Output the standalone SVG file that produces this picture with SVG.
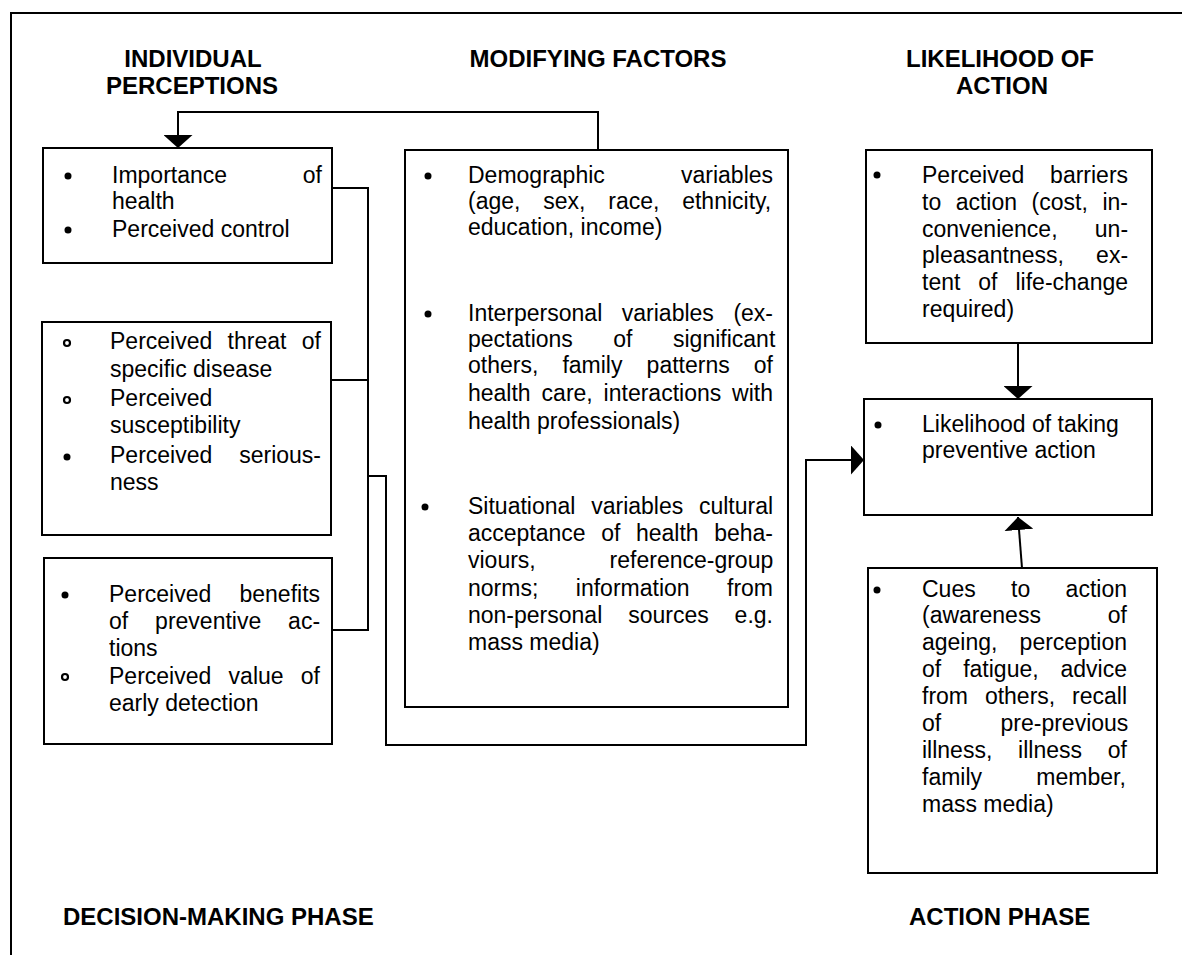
<svg xmlns="http://www.w3.org/2000/svg" width="1182" height="955" viewBox="0 0 1182 955">
<style>
  .frame{fill:none;stroke:#000;stroke-width:2}
  .box{fill:#fff;stroke:#000;stroke-width:2}
  .conn{fill:none;stroke:#000;stroke-width:2}
  .t{font-family:"Liberation Sans",Arial,Helvetica,sans-serif;font-size:23px;fill:#000}
  .h{font-family:"Liberation Sans",Arial,Helvetica,sans-serif;font-size:24px;font-weight:bold;fill:#000}
  .dot{fill:#000}
  .ring{fill:#fff;stroke:#000;stroke-width:2.2}
</style>
<defs>
  <marker id="arr" markerUnits="userSpaceOnUse" viewBox="0 0 13 29" refX="13" refY="14.5" markerWidth="13" markerHeight="29" orient="auto">
    <path d="M0,0 L13,14.5 L0,29 Z" fill="#000"/>
  </marker>
</defs>
<rect width="1182" height="955" fill="#fff"/>
<path class="frame" d="M11,955 V13 H1182"/>

<g id="headers">
  <text class="h" x="193" y="67" text-anchor="middle">INDIVIDUAL</text>
  <text class="h" x="192" y="94" text-anchor="middle">PERCEPTIONS</text>
  <text class="h" x="598" y="67" text-anchor="middle">MODIFYING FACTORS</text>
  <text class="h" x="1000" y="67" text-anchor="middle">LIKELIHOOD OF</text>
  <text class="h" x="1002" y="94" text-anchor="middle">ACTION</text>
  <text class="h" x="63" y="925">DECISION-MAKING PHASE</text>
  <text class="h" x="909" y="925">ACTION PHASE</text>
</g>

<g id="connectors">
  <path class="conn" d="M598,150 V112 H178 V148" marker-end="url(#arr)"/>
  <path class="conn" d="M332,188 H368 V630 H333"/>
  <path class="conn" d="M331,380 H368"/>
  <path class="conn" d="M368,476 H386 V745 H806 V460 H864" marker-end="url(#arr)"/>
  <path class="conn" d="M1018,343 V399" marker-end="url(#arr)"/>
  <path class="conn" d="M1022,568 L1018,517" marker-end="url(#arr)"/>
</g>

<g id="node-importance">
  <rect class="box" x="43" y="148" width="289" height="115"/>
  <circle class="dot" cx="68" cy="176" r="3.5"/>
  <circle class="dot" cx="68" cy="230" r="3.5"/>
  <text class="t" y="183"><tspan x="112">Importance</tspan> <tspan x="302.8">of</tspan></text>
  <text class="t" x="112" y="209">health</text>
  <text class="t" x="112" y="237">Perceived control</text>
</g>

<g id="node-threat">
  <rect class="box" x="42" y="322" width="289" height="213"/>
  <circle class="ring" cx="67" cy="343" r="3"/>
  <circle class="ring" cx="67" cy="400" r="3"/>
  <circle class="dot" cx="67" cy="457" r="3.5"/>
  <text class="t" y="349"><tspan x="110">Perceived</tspan> <tspan x="227.6">threat</tspan> <tspan x="301.8">of</tspan></text>
  <text class="t" x="110" y="377">specific disease</text>
  <text class="t" x="110" y="406">Perceived</text>
  <text class="t" x="110" y="433">susceptibility</text>
  <text class="t" y="463"><tspan x="110">Perceived</tspan> <tspan x="239.2">serious-</tspan></text>
  <text class="t" x="110" y="490">ness</text>
</g>

<g id="node-benefits">
  <rect class="box" x="44" y="558" width="288" height="186"/>
  <circle class="dot" cx="65" cy="595" r="3.5"/>
  <circle class="ring" cx="65" cy="677" r="3"/>
  <text class="t" y="602"><tspan x="109">Perceived</tspan> <tspan x="239.5">benefits</tspan></text>
  <text class="t" y="629"><tspan x="109">of</tspan> <tspan x="155.1">preventive</tspan> <tspan x="288.1">ac-</tspan></text>
  <text class="t" x="109" y="656">tions</text>
  <text class="t" y="684"><tspan x="109">Perceived</tspan> <tspan x="228.6">value</tspan> <tspan x="300.8">of</tspan></text>
  <text class="t" x="109" y="711">early detection</text>
</g>

<g id="node-modifying">
  <rect class="box" x="405" y="150" width="383" height="557"/>
  <circle class="dot" cx="428" cy="176" r="3.5"/>
  <circle class="dot" cx="428" cy="314" r="3.5"/>
  <circle class="dot" cx="425" cy="507" r="3.5"/>
  <text class="t" y="183"><tspan x="468">Demographic</tspan> <tspan x="681">variables</tspan></text>
  <text class="t" y="209"><tspan x="468">(age,</tspan> <tspan x="543.2">sex,</tspan> <tspan x="608.3">race,</tspan> <tspan x="682.2">ethnicity,</tspan></text>
  <text class="t" x="468" y="235">education, income)</text>
  <text class="t" y="321"><tspan x="468">Interpersonal</tspan> <tspan x="621.8">variables</tspan> <tspan x="733.4">(ex-</tspan></text>
  <text class="t" y="347"><tspan x="468">pectations</tspan> <tspan x="613.3">of</tspan> <tspan x="673">significant</tspan></text>
  <text class="t" y="373"><tspan x="468">others,</tspan> <tspan x="562.4">family</tspan> <tspan x="646.6">patterns</tspan> <tspan x="753.8">of</tspan></text>
  <text class="t" y="401"><tspan x="468">health</tspan> <tspan x="541.6">care,</tspan> <tspan x="603.6">interactions</tspan> <tspan x="732.1">with</tspan></text>
  <text class="t" x="468" y="429">health professionals)</text>
  <text class="t" y="514"><tspan x="468">Situational</tspan> <tspan x="591.2">variables</tspan> <tspan x="698.9">cultural</tspan></text>
  <text class="t" y="541"><tspan x="468">acceptance</tspan> <tspan x="601.2">of</tspan> <tspan x="636">health</tspan> <tspan x="714.2">beha-</tspan></text>
  <text class="t" y="568"><tspan x="468">viours,</tspan> <tspan x="609.6">reference-group</tspan></text>
  <text class="t" y="596"><tspan x="468">norms;</tspan> <tspan x="575.8">information</tspan> <tspan x="727">from</tspan></text>
  <text class="t" y="623"><tspan x="468">non-personal</tspan> <tspan x="628.2">sources</tspan> <tspan x="734.6">e.g.</tspan></text>
  <text class="t" x="468" y="650">mass media)</text>
</g>

<g id="node-barriers">
  <rect class="box" x="866" y="150" width="286" height="193"/>
  <circle class="dot" cx="877" cy="175" r="3.5"/>
  <text class="t" y="183"><tspan x="922">Perceived</tspan> <tspan x="1050.1">barriers</tspan></text>
  <text class="t" y="210"><tspan x="922">to</tspan> <tspan x="955.7">action</tspan> <tspan x="1031.6">(cost,</tspan> <tspan x="1102.4">in-</tspan></text>
  <text class="t" y="237"><tspan x="922">convenience,</tspan> <tspan x="1094.8">un-</tspan></text>
  <text class="t" y="263"><tspan x="922">pleasantness,</tspan> <tspan x="1096.1">ex-</tspan></text>
  <text class="t" y="290"><tspan x="922">tent</tspan> <tspan x="978.3">of</tspan> <tspan x="1015.5">life-change</tspan></text>
  <text class="t" x="922" y="317">required)</text>
</g>

<g id="node-likelihood">
  <rect class="box" x="864" y="399" width="288" height="116"/>
  <circle class="dot" cx="878" cy="425" r="3.5"/>
  <text class="t" x="922" y="432">Likelihood of taking</text>
  <text class="t" x="922" y="458">preventive action</text>
</g>

<g id="node-cues">
  <rect class="box" x="868" y="568" width="289" height="305"/>
  <circle class="dot" cx="877" cy="590" r="3.5"/>
  <text class="t" y="597"><tspan x="922">Cues</tspan> <tspan x="1011">to</tspan> <tspan x="1065.6">action</tspan></text>
  <text class="t" y="623"><tspan x="922">(awareness</tspan> <tspan x="1107.8">of</tspan></text>
  <text class="t" y="650"><tspan x="922">ageing,</tspan> <tspan x="1019.6">perception</tspan></text>
  <text class="t" y="677"><tspan x="922">of</tspan> <tspan x="963.2">fatigue,</tspan> <tspan x="1060.5">advice</tspan></text>
  <text class="t" y="704"><tspan x="922">from</tspan> <tspan x="984.9">others,</tspan> <tspan x="1072.1">recall</tspan></text>
  <text class="t" y="731"><tspan x="922">of</tspan> <tspan x="1000.5">pre-previous</tspan></text>
  <text class="t" y="758"><tspan x="922">illness,</tspan> <tspan x="1018.1">illness</tspan> <tspan x="1107.8">of</tspan></text>
  <text class="t" y="785"><tspan x="922">family</tspan> <tspan x="1036.3">member,</tspan></text>
  <text class="t" x="922" y="812">mass media)</text>
</g>
</svg>
